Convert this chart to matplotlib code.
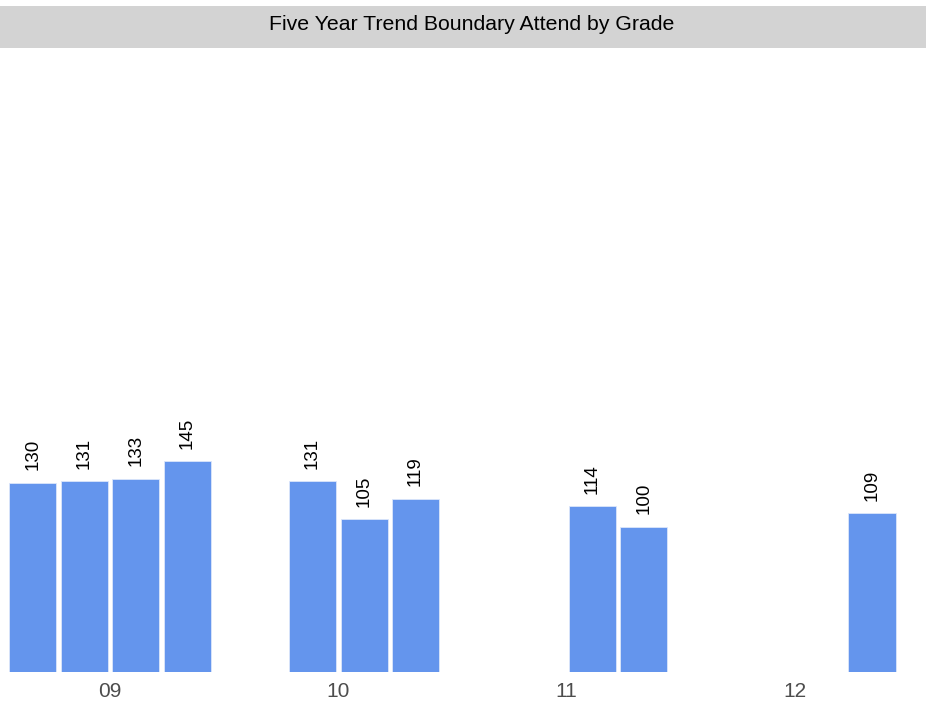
import numpy as np
import matplotlib.pyplot as plt
from matplotlib.patches import Rectangle

# Attendance by grade, four year slots per grade (None = no data)
grades = ['09', '10', '11', '12']
year1 = [130, None, None, None]
year2 = [131, 131, None, None]
year3 = [133, 105, 114, None]
year4 = [145, 119, 100, 109]

plt.rcParams['font.family'] = ['Liberation Sans', 'DejaVu Sans']

fig = plt.figure(figsize=(9.3, 7.12), dpi=100)
ax = fig.add_axes([0.0, 1 - 672 / 712, 1.0, (672 - 48) / 712])

bar_color = '#6495ED'
width = 0.206
offsets = [-0.338, -0.113, 0.113, 0.338]
x = np.arange(1, len(grades) + 1)

for off, series in zip(offsets, [year1, year2, year3, year4]):
    for xi, v in zip(x, series):
        if v is None:
            continue
        ax.bar(xi + off, v, width=width, color=bar_color, edgecolor='#dce6fa', linewidth=0.6)
        ax.annotate(str(v), (xi + off, v), xytext=(0, 9), textcoords='offset points',
                    rotation=90, ha='center', va='bottom', fontsize=13.5, color='black')

ax.set_xlim(1 - 110 / 228, 4 + 135 / 228)
ax.set_ylim(0, 429)
ax.set_xticks(x)
ax.set_xticklabels(grades, fontsize=15, color='#4D4D4D')
ax.tick_params(axis='x', length=0, pad=7)
ax.set_yticks([])
for s in ax.spines.values():
    s.set_visible(False)

# facet strip
fig.patches.append(Rectangle((0, 1 - 48 / 712), 926 / 930, 42 / 712, transform=fig.transFigure,
                             facecolor='#D3D3D3', edgecolor='none'))
fig.text(472 / 930, 1 - 25 / 712, 'Five Year Trend Boundary Attend by Grade',
         ha='center', va='center', fontsize=15.3, color='black')

fig.savefig('out.png', dpi=100)
